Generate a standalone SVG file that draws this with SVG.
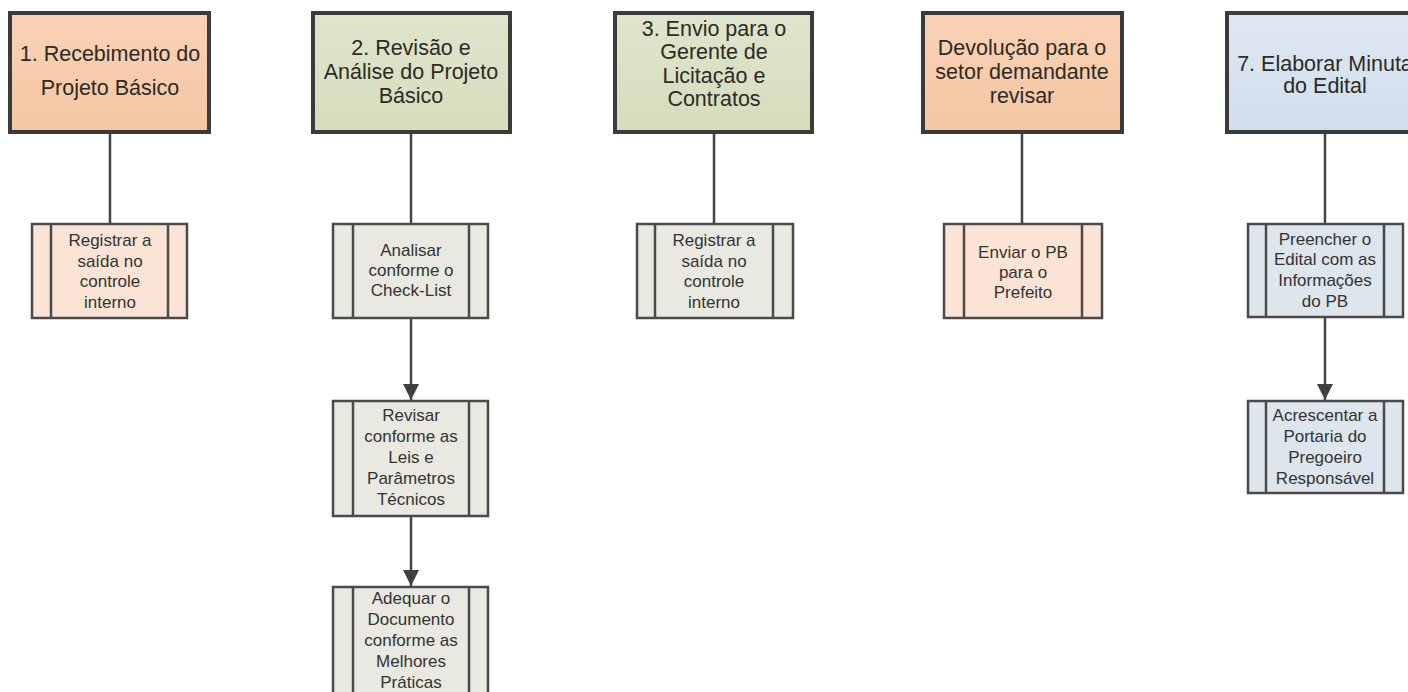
<svg xmlns="http://www.w3.org/2000/svg" width="1408" height="692" viewBox="0 0 1408 692">
  <defs>
    <linearGradient id="gOrange" x1="0" y1="0" x2="0" y2="1">
      <stop offset="0" stop-color="#f9d3b6"/>
      <stop offset="1" stop-color="#f5c6a3"/>
    </linearGradient>
    <linearGradient id="gGreen" x1="0" y1="0" x2="0" y2="1">
      <stop offset="0" stop-color="#dfe5cc"/>
      <stop offset="1" stop-color="#d5ddbd"/>
    </linearGradient>
    <linearGradient id="gBlue" x1="0" y1="0" x2="0" y2="1">
      <stop offset="0" stop-color="#dfe8f2"/>
      <stop offset="1" stop-color="#cfdeec"/>
    </linearGradient>
    <marker id="arrow" viewBox="0 0 10 10" refX="10" refY="5" markerWidth="6.5" markerHeight="6.5" markerUnits="strokeWidth" orient="auto">
      <path d="M0,0 L10,5 L0,10 z" fill="#404040"/>
    </marker>
  </defs>
  <style>
    .hdr { stroke: #3b3b3b; stroke-width: 4; }
    .sub { stroke: #4a4a4a; stroke-width: 2.5; }
    .bar { stroke: #4a4a4a; stroke-width: 2.5; fill: none; }
    .conn { stroke: #444444; stroke-width: 2.5; fill: none; }
    .ht { font-family: "Liberation Sans", Arial, sans-serif; font-size: 21.5px; fill: #2e2a26; text-anchor: middle; }
    .st { font-family: "Liberation Sans", Arial, sans-serif; font-size: 17px; fill: #333333; text-anchor: middle; }
    .fo { fill: url(#gOrange); }
    .fg { fill: url(#gGreen); }
    .fb { fill: url(#gBlue); }
    .so { fill: #fbe4d5; }
    .sg { fill: #e9e9e1; }
    .sb { fill: #dde5ed; }
  </style>

  <rect width="1408" height="692" fill="#ffffff"/>

  <!-- connectors -->
  <g id="connectors">
    <line class="conn" x1="110" y1="132" x2="110" y2="224"/>
    <line class="conn" x1="411" y1="132" x2="411" y2="224"/>
    <line class="conn" x1="411" y1="318" x2="411" y2="400" marker-end="url(#arrow)"/>
    <line class="conn" x1="411" y1="516" x2="411" y2="586" marker-end="url(#arrow)"/>
    <line class="conn" x1="714" y1="132" x2="714" y2="224"/>
    <line class="conn" x1="1022" y1="132" x2="1022" y2="224"/>
    <line class="conn" x1="1325" y1="132" x2="1325" y2="224"/>
    <line class="conn" x1="1325" y1="317" x2="1325" y2="400" marker-end="url(#arrow)"/>
  </g>

  <!-- column 1 -->
  <g id="recebimento">
    <rect class="hdr fo" x="10" y="13" width="199" height="119"/>
    <text class="ht" x="110" y="61">1. Recebimento do</text>
    <text class="ht" x="110" y="95">Projeto Básico</text>
  </g>
  <g id="registrar-saida-1">
    <rect class="sub so" x="32" y="224" width="155" height="94"/>
    <line class="bar" x1="51" y1="224" x2="51" y2="318"/>
    <line class="bar" x1="168" y1="224" x2="168" y2="318"/>
    <text class="st" x="110" y="246">Registrar a</text>
    <text class="st" x="110" y="267">saída no</text>
    <text class="st" x="110" y="287">controle</text>
    <text class="st" x="110" y="308">interno</text>
  </g>

  <!-- column 2 -->
  <g id="revisao-analise">
    <rect class="hdr fg" x="313" y="13" width="197" height="119"/>
    <text class="ht" x="411" y="55">2. Revisão e</text>
    <text class="ht" x="411" y="79">Análise do Projeto</text>
    <text class="ht" x="411" y="103">Básico</text>
  </g>
  <g id="analisar-checklist">
    <rect class="sub sg" x="333" y="224" width="155" height="94"/>
    <line class="bar" x1="353" y1="224" x2="353" y2="318"/>
    <line class="bar" x1="469" y1="224" x2="469" y2="318"/>
    <text class="st" x="411" y="256">Analisar</text>
    <text class="st" x="411" y="276">conforme o</text>
    <text class="st" x="411" y="296">Check-List</text>
  </g>
  <g id="revisar-leis">
    <rect class="sub sg" x="333" y="401" width="155" height="115"/>
    <line class="bar" x1="353" y1="401" x2="353" y2="516"/>
    <line class="bar" x1="469" y1="401" x2="469" y2="516"/>
    <text class="st" x="411" y="421">Revisar</text>
    <text class="st" x="411" y="442">conforme as</text>
    <text class="st" x="411" y="463">Leis e</text>
    <text class="st" x="411" y="484">Parâmetros</text>
    <text class="st" x="411" y="505">Técnicos</text>
  </g>
  <g id="adequar-documento">
    <rect class="sub sg" x="333" y="587" width="155" height="115"/>
    <line class="bar" x1="353" y1="587" x2="353" y2="702"/>
    <line class="bar" x1="469" y1="587" x2="469" y2="702"/>
    <text class="st" x="411" y="604">Adequar o</text>
    <text class="st" x="411" y="625">Documento</text>
    <text class="st" x="411" y="646">conforme as</text>
    <text class="st" x="411" y="667">Melhores</text>
    <text class="st" x="411" y="688">Práticas</text>
  </g>

  <!-- column 3 -->
  <g id="envio-gerente">
    <rect class="hdr fg" x="615" y="13" width="197" height="119"/>
    <text class="ht" x="714" y="36">3. Envio para o</text>
    <text class="ht" x="714" y="59">Gerente de</text>
    <text class="ht" x="714" y="83">Licitação e</text>
    <text class="ht" x="714" y="106">Contratos</text>
  </g>
  <g id="registrar-saida-3">
    <rect class="sub sg" x="637" y="224" width="156" height="94"/>
    <line class="bar" x1="655" y1="224" x2="655" y2="318"/>
    <line class="bar" x1="773" y1="224" x2="773" y2="318"/>
    <text class="st" x="714" y="246">Registrar a</text>
    <text class="st" x="714" y="267">saída no</text>
    <text class="st" x="714" y="287">controle</text>
    <text class="st" x="714" y="308">interno</text>
  </g>

  <!-- column 4 -->
  <g id="devolucao">
    <rect class="hdr fo" x="923" y="13" width="199" height="119"/>
    <text class="ht" x="1022" y="55">Devolução para o</text>
    <text class="ht" x="1022" y="79">setor demandante</text>
    <text class="ht" x="1022" y="103">revisar</text>
  </g>
  <g id="enviar-pb">
    <rect class="sub so" x="944" y="224" width="158" height="94"/>
    <line class="bar" x1="964" y1="224" x2="964" y2="318"/>
    <line class="bar" x1="1082" y1="224" x2="1082" y2="318"/>
    <text class="st" x="1023" y="258">Enviar o PB</text>
    <text class="st" x="1023" y="278">para o</text>
    <text class="st" x="1023" y="298">Prefeito</text>
  </g>

  <!-- column 5 -->
  <g id="minuta-edital">
    <rect class="hdr fb" x="1227" y="13" width="197" height="119"/>
    <text class="ht" x="1325" y="71">7. Elaborar Minuta</text>
    <text class="ht" x="1325" y="93">do Edital</text>
  </g>
  <g id="preencher-edital">
    <rect class="sub sb" x="1248" y="224" width="155" height="93"/>
    <line class="bar" x1="1266" y1="224" x2="1266" y2="317"/>
    <line class="bar" x1="1384" y1="224" x2="1384" y2="317"/>
    <text class="st" x="1325" y="245">Preencher o</text>
    <text class="st" x="1325" y="265">Edital com as</text>
    <text class="st" x="1325" y="286">Informações</text>
    <text class="st" x="1325" y="307">do PB</text>
  </g>
  <g id="acrescentar-portaria">
    <rect class="sub sb" x="1248" y="401" width="155" height="92"/>
    <line class="bar" x1="1266" y1="401" x2="1266" y2="493"/>
    <line class="bar" x1="1384" y1="401" x2="1384" y2="493"/>
    <text class="st" x="1325" y="421">Acrescentar a</text>
    <text class="st" x="1325" y="442">Portaria do</text>
    <text class="st" x="1325" y="463">Pregoeiro</text>
    <text class="st" x="1325" y="484">Responsável</text>
  </g>
</svg>
